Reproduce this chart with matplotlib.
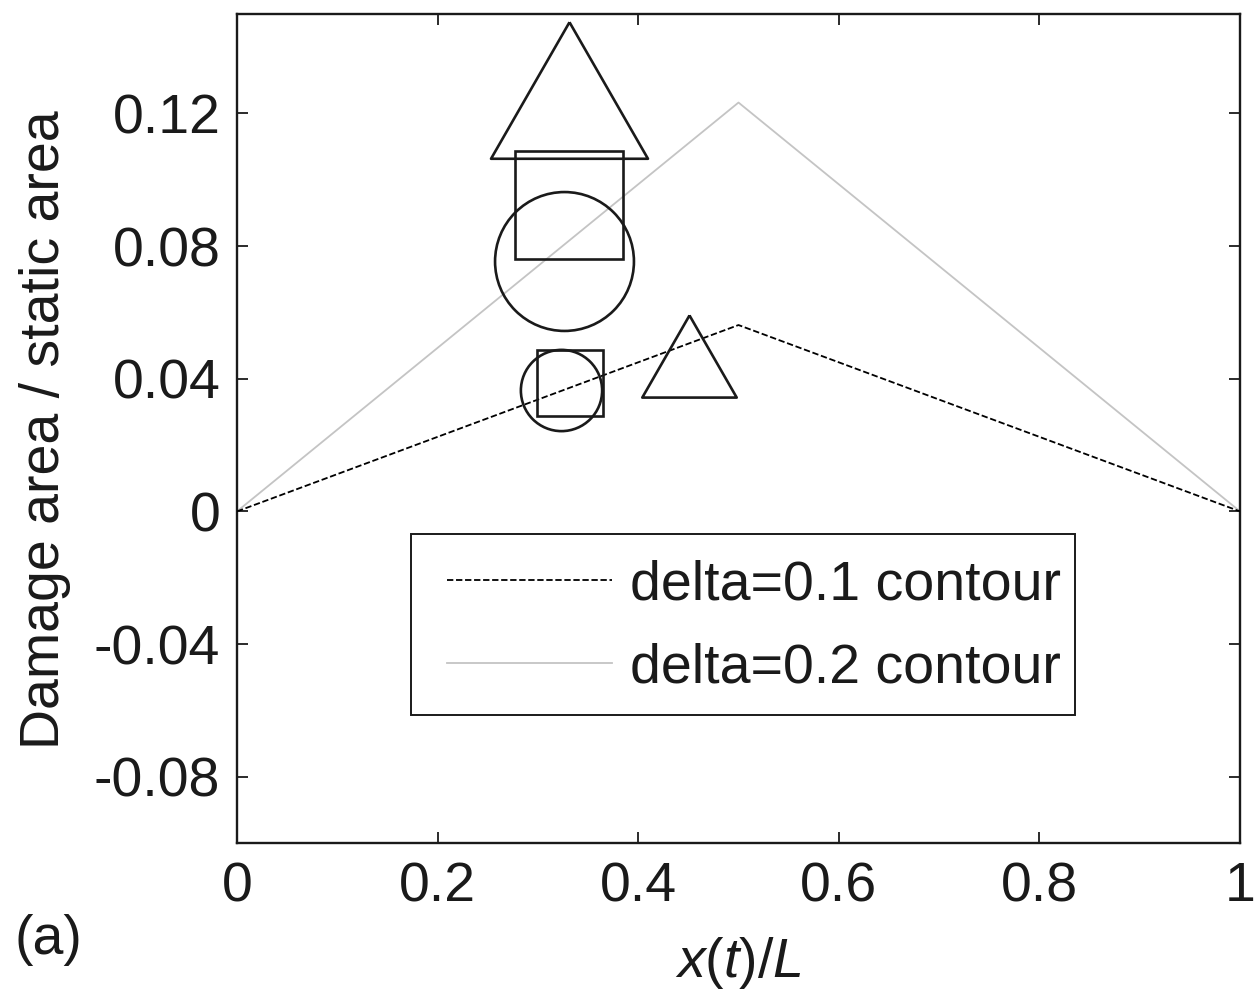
import matplotlib
matplotlib.use("Agg")
import matplotlib.pyplot as plt
from matplotlib.patches import Rectangle

plt.rcParams['font.family'] = ['Liberation Sans', 'DejaVu Sans']
plt.rcParams['axes.unicode_minus'] = False
plt.rcParams['mathtext.fontset'] = 'custom'
plt.rcParams['mathtext.rm'] = 'Liberation Sans'
plt.rcParams['mathtext.it'] = 'Liberation Sans:italic'

# Contour curves along the beam
x_pos = [0.0, 0.5, 1.0]
delta01 = [0.0, 0.0562, 0.0]
delta02 = [0.0, 0.1233, 0.0]

# Individual measured points (x, y) for each symbol
big_tri = (0.3314, 0.1272)
big_sq = (0.331, 0.0924)
big_circ = (0.3265, 0.0756)
small_circ = (0.323, 0.0365)
small_sq = (0.332, 0.0386)
small_tri = (0.4507, 0.0468)

xticks = [0, 0.2, 0.4, 0.6, 0.8, 1]
xticklabels = ["0", "0.2", "0.4", "0.6", "0.8", "1"]
yticks = [-0.08, -0.04, 0, 0.04, 0.08, 0.12]
yticklabels = ["-0.08", "-0.04", "0", "0.04", "0.08", "0.12"]

FS = 40
INK = '#1a1a1a'

fig = plt.figure(figsize=(12.55, 9.92), dpi=100)
ax = fig.add_axes([237/1255, 1-843/992, (1240-237)/1255, (843-14)/992])

ax.plot(x_pos, delta01, color='black', lw=1.3, dashes=(3.5, 1.5),
        label='delta=0.1 contour', zorder=3)
ax.plot(x_pos, delta02, color='#c4c4c4', lw=1.3,
        label='delta=0.2 contour', zorder=2)

# triangle marker, width 1 and height 0.87
tri = [(0, 0.435), (-0.5, -0.435), (0.5, -0.435), (0, 0.435)]
mk = dict(markerfacecolor='none', markeredgecolor=INK,
          markeredgewidth=1.9, linestyle='none', zorder=4)
ax.plot(*big_tri, marker=tri, markersize=113, **mk)
ax.plot(*big_sq, marker='s', markersize=78, **mk)
ax.plot(*big_circ, marker='o', markersize=100, **mk)
ax.plot(*small_circ, marker='o', markersize=58.5, **mk)
ax.plot(*small_sq, marker='s', markersize=47.5, **mk)
ax.plot(*small_tri, marker=tri, markersize=68, **mk)

ax.set_xlim(0, 1)
ax.set_ylim(-0.1, 0.15)
ax.set_xticks(xticks)
ax.set_xticklabels(xticklabels)
ax.set_yticks(yticks)
ax.set_yticklabels(yticklabels)
ax.tick_params(direction='in', length=8, width=1.3, labelsize=FS,
               top=True, right=True, colors=INK)
ax.tick_params(axis='x', pad=13)
ax.tick_params(axis='y', pad=12)
for s in ax.spines.values():
    s.set_linewidth(1.7)
    s.set_color(INK)

# legend box drawn as its own rectangle, entries placed inside it
ax.add_patch(Rectangle((0.1735, 0.1544), 0.662, 0.2183, transform=ax.transAxes,
                       facecolor='white', edgecolor=INK, linewidth=1.4,
                       zorder=5))
leg = ax.legend(loc='upper left', bbox_to_anchor=(0.2094, 0.342),
                fontsize=FS, frameon=False,
                handlelength=2.97, handletextpad=0.32, borderpad=0,
                labelspacing=0.56, borderaxespad=0)
leg.set_zorder(6)
for t in leg.get_texts():
    t.set_color(INK)

fig.text(45/1255, 1-430/992, 'Damage area / static area', rotation=90,
         ha='center', va='center', fontsize=FS, color=INK)
fig.text(738/1255, 1-963/992, r'$x$(${t}$)/$L$', ha='center', va='center',
         fontsize=FS, color=INK)
fig.text(48/1255, 1-940/992, '(a)', ha='center', va='center',
         fontsize=FS, color=INK)

fig.savefig('out.png', dpi=100)
